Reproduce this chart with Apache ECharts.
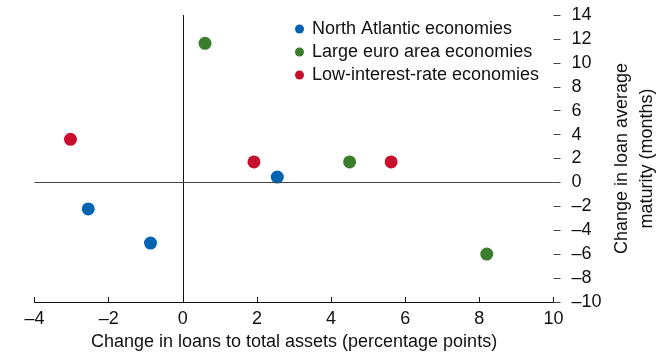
<!DOCTYPE html>
<html>
<head>
<meta charset="utf-8">
<script src="https://cdn.jsdelivr.net/npm/echarts@6/dist/echarts.min.js"></script>
<style>
  html, body { margin: 0; padding: 0; background: #fff; }
  #chart { width: 661px; height: 358px; }
</style>
</head>
<body>
<div id="chart"></div>
<script>
// Group names shown in the legend
const groupNames = ['North Atlantic economies', 'Large euro area economies', 'Low-interest-rate economies'];

// [change in loans to total assets (pp), change in loan average maturity (months)]
const northAtlantic = [[-2.55, -2.22], [-0.87, -5.07], [2.55, 0.45]];
const largeEuroArea = [[0.60, 11.63], [4.50, 1.71], [8.20, -5.99]];
const lowInterestRate = [[-3.03, 3.60], [1.92, 1.71], [5.62, 1.71]];

// Axis settings
const xTicks = { min: -4, max: 10, step: 2 };
const yTicks = { min: -10, max: 14, step: 2 };
const xTitle = 'Change in loans to total assets (percentage points)';
const yTitle = 'Change in loan average\nmaturity (months)';

const colors = ['#0063b1', '#3a7d2c', '#c8102e'];
const FONT = '"Liberation Sans Narrow", "Liberation Sans", Arial, sans-serif';
const FS = 18;
const minusSign = v => String(v).replace('-', '\u2013');

const chart = echarts.init(document.getElementById('chart'), null, { renderer: 'canvas' });

const seriesData = [northAtlantic, largeEuroArea, lowInterestRate];

chart.setOption({
  animation: false,
  color: colors,
  grid: { left: 34.5, right: 107.5, top: 15, bottom: 56, containLabel: false, outerBoundsMode: 'none' },
  legend: {
    orient: 'vertical',
    left: 295,
    top: 19,
    icon: 'circle',
    itemWidth: 9,
    itemHeight: 9,
    itemGap: 3,
    padding: 0,
    textStyle: { fontFamily: FONT, fontSize: FS, color: '#111', lineHeight: 20, padding: [0, 0, 0, 3] },
    data: groupNames
  },
  xAxis: {
    type: 'value',
    min: xTicks.min,
    max: xTicks.max,
    interval: xTicks.step,
    name: xTitle,
    nameLocation: 'middle',
    nameGap: 31,
    nameTextStyle: { fontFamily: FONT, fontSize: FS, color: '#111' },
    axisLine: { onZero: false, lineStyle: { color: '#111', width: 1 } },
    axisTick: { inside: true, length: 5, lineStyle: { color: '#111' } },
    axisLabel: { fontFamily: FONT, fontSize: FS, color: '#111', margin: 8, formatter: minusSign },
    splitLine: { show: false }
  },
  yAxis: {
    type: 'value',
    position: 'right',
    min: yTicks.min,
    max: yTicks.max,
    interval: yTicks.step,
    name: yTitle,
    nameLocation: 'middle',
    nameRotate: 90,
    nameGap: 56,
    nameMoveOverlap: false,
    nameTextStyle: { fontFamily: FONT, fontSize: FS, color: '#111', lineHeight: 25 },
    axisLine: { show: false, onZero: false },
    axisTick: { show: true, length: 7, lineStyle: { color: '#444' } },
    axisLabel: { fontFamily: FONT, fontSize: FS, color: '#111', margin: 18, align: 'left', formatter: minusSign },
    splitLine: { show: false }
  },
  series: seriesData.map((d, i) => ({
    name: groupNames[i],
    type: 'scatter',
    data: d,
    symbolSize: 13,
    itemStyle: { color: colors[i], opacity: 1 },
    z: 3,
    markLine: i === 0 ? {
      silent: true,
      symbol: 'none',
      label: { show: false },
      animation: false,
      data: [
        { xAxis: 0, lineStyle: { color: '#111', width: 1, type: 'solid' } },
        { yAxis: 0, lineStyle: { color: '#444', width: 1, type: 'solid' } }
      ]
    } : undefined
  }))
});
</script>
</body>
</html>
